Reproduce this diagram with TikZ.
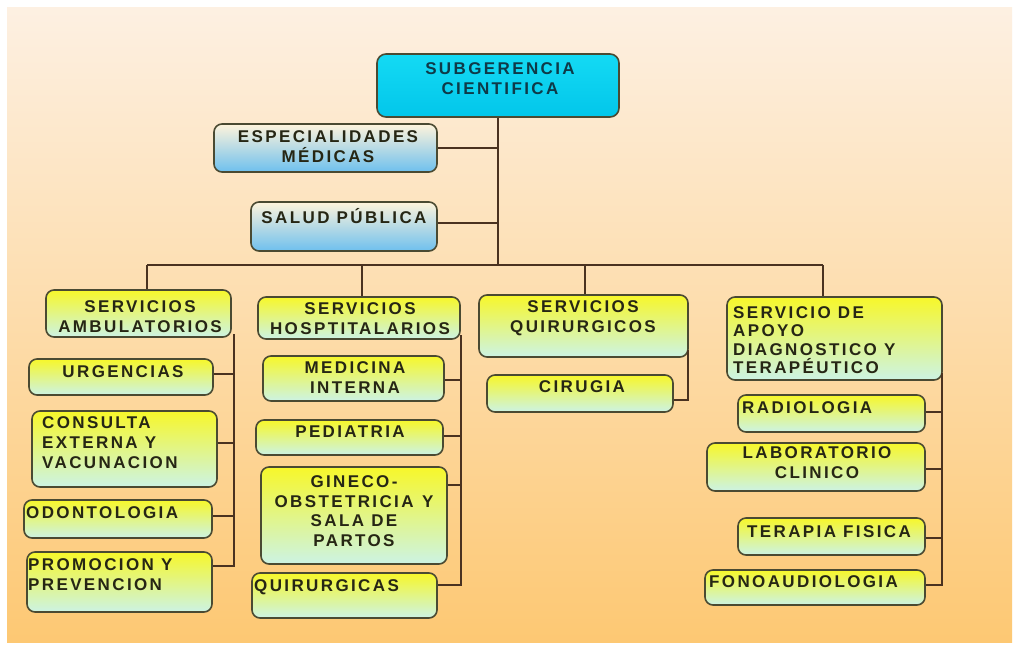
\documentclass[tikz,border=0pt]{standalone}
\usepackage{fontspec}
\newfontfamily\boxfont{Liberation Sans}[LetterSpace=14]
\definecolor{bgtop}{HTML}{FDF0E2}
\definecolor{bgbot}{HTML}{FDC873}
\definecolor{ytop}{HTML}{F7F72A}
\definecolor{ymid}{HTML}{E6F69C}
\definecolor{ybot}{HTML}{CCF3E4}
\definecolor{ctop}{HTML}{14DAF4}
\definecolor{cbot}{HTML}{02C6EA}
\definecolor{btop}{HTML}{FFF4DC}
\definecolor{bbot}{HTML}{6EC0EE}
\definecolor{boxline}{HTML}{4A4A32}
\definecolor{linecol}{HTML}{4A3220}
\definecolor{txtcol}{HTML}{262614}
\definecolor{subtxt}{HTML}{0E3A48}
\tikzset{
  ybox/.style={draw=boxline, line width=1.6pt, rounded corners=8pt, top color=ytop, middle color=ymid, bottom color=ybot, inner sep=0pt},
  cbox/.style={draw=boxline, line width=1.6pt, rounded corners=9pt, top color=ctop, bottom color=cbot, inner sep=0pt},
  bbox/.style={draw=boxline, line width=1.6pt, rounded corners=8pt, top color=btop, bottom color=bbot, inner sep=0pt},
  txt/.style={font=\boxfont\bfseries\fontsize{17}{20}\selectfont, text=txtcol, inner sep=0pt, align=center},
  ltxt/.style={txt, align=left, anchor=west},
  link/.style={draw=linecol, line width=2.5pt}
}
\newcommand{\orgbox}[6]{\node[#2, minimum width={#5-#3}, minimum height={#6-#4}] (#1) at ({(#3+#5)/2},{(#4+#6)/2}) {};}
\begin{document}
\begin{tikzpicture}[x=1pt,y=-1pt]
\useasboundingbox (0,0) rectangle (1016,645);
\fill[white] (0,0) rectangle (1016,645);
\shade[top color=bgtop, bottom color=bgbot] (7,7) rectangle (1012,642);

% boxes
\orgbox{sub}{cbox}{377}{54}{619}{117}
\orgbox{esp}{bbox}{214}{124}{437}{172}
\orgbox{sal}{bbox}{251}{202}{437}{251}

\orgbox{amb}{ybox}{46}{290}{231}{337}
\orgbox{urg}{ybox}{29}{359}{213}{395}
\orgbox{con}{ybox}{32}{411}{217}{487}
\orgbox{odo}{ybox}{24}{500}{212}{538}
\orgbox{pro}{ybox}{27}{552}{212}{612}

\orgbox{hos}{ybox}{258}{297}{460}{339}
\orgbox{med}{ybox}{263}{356}{444}{401}
\orgbox{ped}{ybox}{256}{420}{443}{455}
\orgbox{gin}{ybox}{261}{467}{447}{564}
\orgbox{qui}{ybox}{252}{573}{437}{618}

\orgbox{squ}{ybox}{479}{295}{688}{357}
\orgbox{cir}{ybox}{487}{375}{673}{412}

\orgbox{apo}{ybox}{727}{297}{942}{380}
\orgbox{rad}{ybox}{738}{395}{925}{432}
\orgbox{lab}{ybox}{707}{443}{925}{491}
\orgbox{ter}{ybox}{738}{518}{925}{555}
\orgbox{fon}{ybox}{705}{570}{925}{605}

% texts
\node[txt, text=subtxt] (tsub) at (500,79) {SUBGERENCIA\\CIENTIFICA};
\node[txt] (tesp) at (328,147) {ESPECIALIDADES\\MÉDICAS};
\node[txt] (tsal) at (344,216) {SALUD PÚBLICA};

\node[txt] (tamb) at (140,317) {SERVICIOS\\AMBULATORIOS};
\node[txt] (turg) at (123,372) {URGENCIAS};
\node[ltxt] (tcon) at (42,443) {CONSULTA\\EXTERNA Y\\VACUNACION};
\node[ltxt] (todo) at (26,513) {ODONTOLOGIA};
\node[ltxt] (tpro) at (28,575) {PROMOCION Y\\PREVENCION};

\node[txt] (thos) at (360,319) {SERVICIOS\\HOSPTITALARIOS};
\node[txt] (tmed) at (355,378) {MEDICINA\\INTERNA};
\node[txt] (tped) at (350,432) {PEDIATRIA};
\node[txt, font=\boxfont\bfseries\fontsize{17}{19.5}\selectfont] (tgin) at (354,511) {GINECO-\\OBSTETRICIA\enspace Y\\SALA DE\\PARTOS};
\node[ltxt] (tqui) at (254,587) {QUIRURGICAS};

\node[txt] (tsqu) at (583,318) {SERVICIOS\\QUIRURGICOS};
\node[txt] (tcir) at (582,387) {CIRUGIA};

\node[ltxt, font=\boxfont\bfseries\fontsize{17}{18.5}\selectfont] (tapo) at (733,340) {SERVICIO DE\\APOYO\\DIAGNOSTICO Y\\TERAPÉUTICO};
\node[ltxt] (trad) at (742,408) {RADIOLOGIA};
\node[txt] (tlab) at (817,463) {LABORATORIO\\CLINICO};
\node[txt] (tter) at (829,532) {TERAPIA FISICA};
\node[ltxt] (tfon) at (709,582) {FONOAUDIOLOGIA};

% connectors
\coordinate (trunk) at (498,265);
\coordinate (busL) at (147,265);
\coordinate (busR) at (823,265);
\coordinate (bus2) at (362,265);
\coordinate (bus3) at (585,265);
\draw[link] (sub.south) -- (trunk);
\draw[link] (esp.east) -- (esp.east -| trunk);
\draw[link] (sal.east |- 0,223) -- (trunk |- 0,223);
\draw[link] (busL) -- (busR);
\draw[link] (busL) -- (busL |- amb.north);
\draw[link] (bus2) -- (bus2 |- hos.north);
\draw[link] (bus3) -- (bus3 |- squ.north);
\draw[link] (busR) -- (busR |- apo.north);

% column 1
\coordinate (v1) at (234,334);
\draw[link] (v1) -- (234,566) -- (pro.east |- 0,566);
\draw[link] (urg.east |- 0,374) -- (234,374);
\draw[link] (con.east |- 0,443) -- (234,443);
\draw[link] (odo.east |- 0,516) -- (234,516);

% column 2
\coordinate (v2) at (461,335);
\draw[link] (v2) -- (461,585) -- (qui.east |- 0,585);
\draw[link] (med.east |- 0,380) -- (461,380);
\draw[link] (ped.east |- 0,436) -- (461,436);
\draw[link] (gin.east |- 0,485) -- (461,485);

% column 3
\coordinate (v3) at (688,350);
\draw[link] (v3) -- (688,400) -- (cir.east |- 0,400);

% column 4
\coordinate (v4) at (942,373);
\draw[link] (v4) -- (942,585) -- (fon.east |- 0,585);
\draw[link] (rad.east |- 0,412) -- (942,412);
\draw[link] (lab.east |- 0,469) -- (942,469);
\draw[link] (ter.east |- 0,538) -- (942,538);
\end{tikzpicture}
\end{document}
